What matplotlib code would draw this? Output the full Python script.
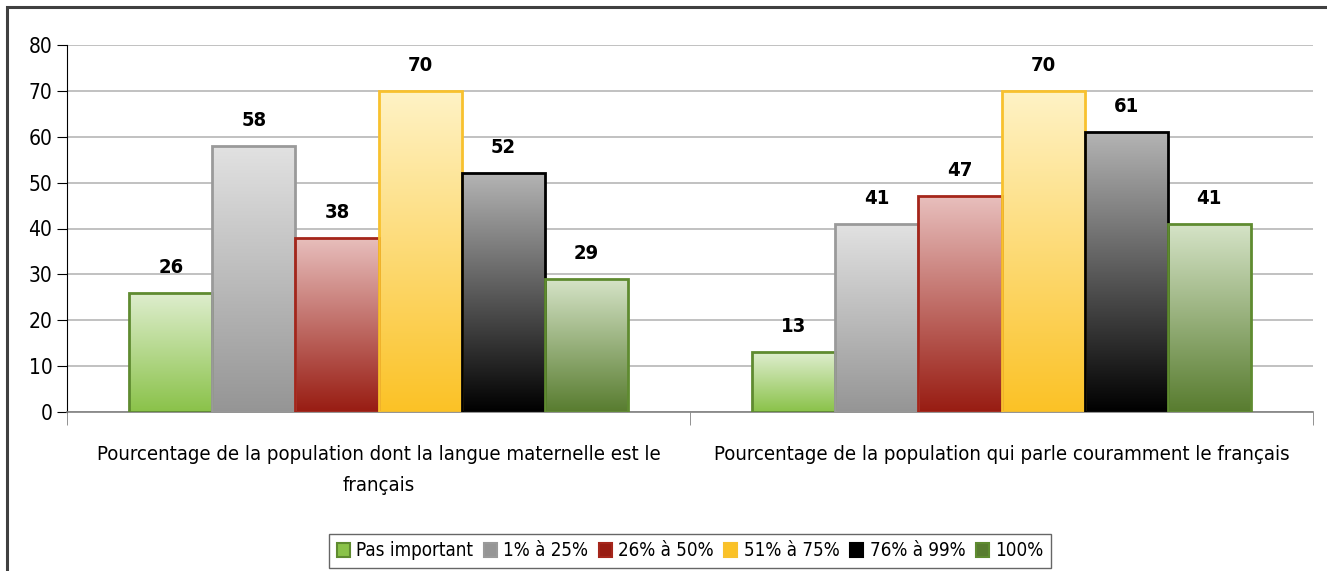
import matplotlib
matplotlib.use('Agg')
import matplotlib.pyplot as plt
import numpy as np
from matplotlib.colors import LinearSegmentedColormap
from matplotlib.patches import Rectangle, Patch

plt.rcParams['font.family'] = ['Liberation Sans Narrow', 'DejaVu Sans']
plt.rcParams['font.stretch'] = 'condensed'

# data
categories = ["Pourcentage de la population dont la langue maternelle est le\nfrançais",
              "Pourcentage de la population qui parle couramment le français"]
series = ["Pas important", "1% à 25%", "26% à 50%", "51% à 75%", "76% à 99%", "100%"]
values = [[26, 13],
          [58, 41],
          [38, 47],
          [70, 70],
          [52, 61],
          [29, 41]]

# top colour, bottom colour, edge colour
styles = [("#dfeecf", "#8ac249", "#5f8b30"),
          ("#e2e2e2", "#959595", "#9a9a9a"),
          ("#e8bfbd", "#981c12", "#a5261b"),
          ("#fff3c6", "#fbc226", "#f8c12e"),
          ("#b4b4b4", "#000000", "#000000"),
          ("#d6e4c8", "#587c2f", "#5f8b30")]

fig = plt.figure(figsize=(13.27, 5.71), dpi=100)
ax = fig.add_axes([67/1327, 1-412/571, (1313-67)/1327, (412-45)/571])

# outer frame of the chart area
fig.patches.append(Rectangle((7/1327, -0.1), 1.2, 1-7/571+0.1, transform=fig.transFigure,
                             fill=False, ec='#404040', lw=2.2, zorder=-1))

n = len(series)
w = 0.8 / n
x = np.arange(len(categories))
grad = np.linspace(0, 1, 256).reshape(-1, 1)

for i in range(n):
    top, bot, edge = styles[i]
    cmap = LinearSegmentedColormap.from_list('g%d' % i, [bot, top])
    for j in range(len(categories)):
        v = values[i][j]
        x0 = x[j] - 0.4 + i * w
        im = ax.imshow(grad, cmap=cmap, aspect='auto', origin='lower',
                       extent=[x0, x0 + w, 0, v], zorder=2)
        r = Rectangle((x0, 0), w, v, fill=False, ec=edge, lw=2, zorder=3)
        ax.add_patch(r)
        im.set_clip_path(r)
        ax.text(x0 + w / 2, v + 3.5, str(v), ha='center', va='bottom',
                fontsize=14.5, fontweight='bold', zorder=4)

ax.set_xlim(-0.5, 1.5)
ax.set_ylim(0, 80)
ax.set_yticks(range(0, 81, 10))
ax.yaxis.grid(True, color='#b0b0b0', lw=1.1)
ax.set_axisbelow(True)
ax.set_xticks(x)
ax.set_xticklabels(categories, fontsize=14.6, linespacing=1.75)
ax.tick_params(axis='x', length=0, pad=24)
ax.set_xticks([-0.5, 0.5, 1.5], minor=True)
ax.tick_params(axis='x', which='minor', length=9, color='#808080')
ax.tick_params(axis='y', labelsize=15, length=7, direction='out')
for s in ['top', 'right']:
    ax.spines[s].set_visible(False)
ax.spines['left'].set_color('black')
ax.spines['bottom'].set_color('#808080')
ax.spines['bottom'].set_linewidth(1.2)

handles = [Patch(facecolor=styles[i][1], edgecolor=styles[i][2], lw=1.5) for i in range(n)]
leg = fig.legend(handles, series, loc='center', bbox_to_anchor=(690/1327, 1-551/571),
                 ncol=n, fontsize=13.5, frameon=True, fancybox=False, edgecolor='#404040',
                 handlelength=0.7, handleheight=0.7, handletextpad=0.35, columnspacing=0.55,
                 borderpad=0.4)
leg.get_frame().set_linewidth(1)

fig.savefig('out.png', dpi=100)
